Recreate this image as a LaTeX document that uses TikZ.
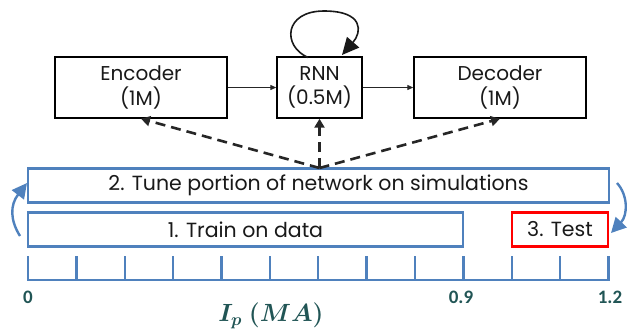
\documentclass[tikz,border=0pt]{standalone}
\usepackage{bm}
\usepackage{fontspec}
\setmainfont{Poppins}
\newfontfamily\numfont{Carlito}
\usetikzlibrary{arrows.meta,calc}
\definecolor{pblue}{HTML}{4F81BD}
\definecolor{pteal}{HTML}{215555}
\definecolor{pdark}{HTML}{262626}
\begin{document}
\begin{tikzpicture}[x=1pt,y=-1pt,
  netbox/.style={draw=black,line width=1.4pt,fill=white,minimum width=#1,minimum height=61pt,inner sep=0pt,align=center,font=\fontsize{20}{24.5}\selectfont,text=black!90},
  stagebox/.style={draw=#1,line width=2.3pt,fill=white,minimum height=34pt,inner sep=0pt,font=\fontsize{20.5}{22}\selectfont,text=black!90},
  flow/.style={-{Triangle[length=6pt,width=5pt]},line width=1.1pt,black!85},
  tuning/.style={-{Triangle[length=9pt,width=10pt]},line width=2.6pt,pdark,dash pattern=on 10pt off 6pt},
  roundarrow/.style={-{Triangle[length=15pt,width=15pt]},line width=2.4pt,pblue},
  ticklbl/.style={text=pteal,font=\numfont\bfseries\fontsize{19}{21}\selectfont}]
\useasboundingbox (0,0) rectangle (629,333);
% network
\node[netbox=172pt] (enc) at (141,87.5) {Encoder\\(1M)};
\node[netbox=85pt] (rnn) at (319.5,87.5) {RNN\\(0.5M)};
\node[netbox=172pt] (dec) at (500,87.5) {Decoder\\(1M)};
\draw[flow] (enc) -- (rnn);
\draw[flow] (rnn) -- (dec);
\coordinate (ls) at (308,57.5);
\coordinate (le) at (342,55);
\draw[line width=1.6pt,black!90,-{Triangle[length=17pt,width=16pt]}] (ls) .. controls (282,46) and (284,11) .. (324,11) .. controls (364,11) and (362,32) .. (le);
% stages
\node[stagebox=pblue,minimum width=581pt] (tune) at (318.5,185.5) {2. Tune portion of network on simulations};
\node[stagebox=pblue,minimum width=435pt] (train) at (245.5,229.5) {1. Train on data};
\node[stagebox=red,minimum width=96pt] (test) at (560,229.5) {3. Test};
\coordinate (hub) at (319.5,168);
\draw[tuning] (hub) -- (enc.south);
\draw[tuning] (hub) -- (rnn.south);
\draw[tuning] (hub) -- (dec.south);
% curved arrows
\coordinate (la) at (20,236);
\coordinate (lb) at (27,183);
\draw[roundarrow] (la) .. controls (10,220) and (10,205) .. (lb);
\coordinate (ra) at (617,183);
\coordinate (rb) at (611,233);
\draw[roundarrow] (ra) .. controls (628,195) and (628,215) .. (rb);
% axis
\draw[pblue,line width=2.3pt] (28,280) -- (608.5,280);
\foreach \i in {0,...,12}{
  \draw[pblue,line width=2.3pt] ({28+48.375*\i},256) -- ({28+48.375*\i},281.1);
}
\node[ticklbl] (t0) at (28,297) {0};
\node[ticklbl] (t9) at (461,297) {0.9};
\node[ticklbl] (t12) at (610,297) {1.2};
\node[text=pteal,font=\fontsize{25}{28}\selectfont] (ax) at (271,316) {$\bm{I_p\;(MA)}$};
\end{tikzpicture}
\end{document}
